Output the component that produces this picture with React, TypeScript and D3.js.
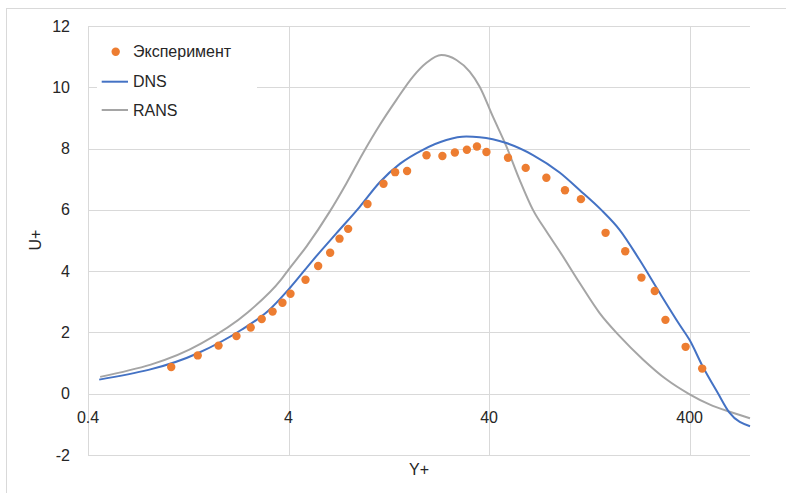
import React from "react";
import * as d3 from "d3";

const expX = [1.04, 1.41, 1.79, 2.2, 2.59, 2.94, 3.33, 3.73, 4.09, 4.86, 5.62, 6.45, 7.18, 7.93, 9.9, 11.9, 13.6, 15.6, 19.5, 23.4, 27.0, 31.0, 34.8, 38.8, 49.7, 60.9, 77.2, 95.6, 114.8, 152.4, 191, 230, 268, 303, 382, 462];
const expY = [0.87, 1.25, 1.57, 1.88, 2.16, 2.44, 2.68, 2.97, 3.26, 3.72, 4.17, 4.6, 5.06, 5.38, 6.19, 6.85, 7.23, 7.27, 7.78, 7.76, 7.87, 7.96, 8.07, 7.89, 7.7, 7.37, 7.05, 6.64, 6.35, 5.25, 4.65, 3.79, 3.35, 2.41, 1.53, 0.82];

const dnsX = [0.455, 1.41, 2.32, 3.15, 4.06, 5.31, 6.94, 9.06, 11.4, 14.35, 18.7, 24.5, 30.8, 35.9, 48.8, 66.2, 89.9, 113, 145, 179, 225, 283, 356.5, 400, 465.6, 552, 632, 800];
const dnsY = [0.46, 1.32, 2.08, 2.69, 3.45, 4.37, 5.24, 6.1, 6.9, 7.5, 7.96, 8.28, 8.39, 8.37, 8.18, 7.79, 7.22, 6.65, 6.0, 5.35, 4.37, 3.3, 2.25, 1.75, 0.88, 0.03, -0.62, -1.06];

const ransX = [0.46, 1.47, 2.51, 3.67, 4.0, 4.92, 6.43, 7.78, 9.4, 11.4, 13.8, 16.7, 19.5, 23.1, 27.5, 32, 35.9, 41.8, 48.8, 56.8, 66.2, 77.2, 89.9, 113, 142, 179, 234, 306, 400, 502, 656, 800];
const ransY = [0.55, 1.64, 2.66, 3.72, 4.05, 4.81, 5.95, 6.87, 7.85, 8.77, 9.59, 10.35, 10.8, 11.05, 10.89, 10.51, 10.02, 9.04, 8.07, 6.98, 6.0, 5.3, 4.65, 3.62, 2.64, 1.88, 1.12, 0.47, -0.02, -0.35, -0.62, -0.8];

const xTicks = [0.4, 4, 40, 400];
const xTickLabels = ["0.4", "4", "40", "400"];
const yTicks = [-2, 0, 2, 4, 6, 8, 10, 12];

const seriesNames = ["Эксперимент", "DNS", "RANS"];

export default function App() {
  const W = 786, H = 493;
  const left = 88, right = 750, top = 26, bottom = 455;
  const x = d3.scaleLog().domain([0.4, 800]).range([left, right]);
  const y = d3.scaleLinear().domain([-2, 12]).range([bottom, top]);
  const line = d3
    .line<[number, number]>()
    .x((d) => x(d[0]))
    .y((d) => y(d[1]))
    .curve(d3.curveMonotoneX);
  const dns = dnsX.map((v, i) => [v, dnsY[i]] as [number, number]);
  const rans = ransX.map((v, i) => [v, ransY[i]] as [number, number]);
  const font = "'Liberation Sans', Arial, sans-serif";
  const grid = "#d9d9d9";
  const txt = "#262626";

  return (
    <svg width={W} height={H} style={{ position: "absolute", left: 0, top: 0 }} fontFamily={font}>
      <rect x={0} y={0} width={W} height={H} fill="#fff" />
      <rect x={6.5} y={8.5} width={W + 10} height={H + 10} fill="none" stroke={grid} />
      {yTicks.map((t) => (
        <line key={"gy" + t} x1={left} x2={right} y1={Math.round(y(t)) + 0.5} y2={Math.round(y(t)) + 0.5} stroke={grid} />
      ))}
      {xTicks.map((t) => (
        <line key={"gx" + t} x1={Math.round(x(t)) + 0.5} x2={Math.round(x(t)) + 0.5} y1={top} y2={bottom} stroke={grid} />
      ))}
      {yTicks.map((t) => (
        <text key={"ty" + t} x={70} y={y(t)} dy="0.35em" textAnchor="end" fontSize={16} fill={txt}>
          {t}
        </text>
      ))}
      {xTicks.map((t, i) => (
        <text key={"tx" + t} x={x(t)} y={417} dy="0.35em" textAnchor="middle" fontSize={16} fill={txt}>
          {xTickLabels[i]}
        </text>
      ))}
      <text x={419} y={469} dy="0.35em" textAnchor="middle" fontSize={16} fill={txt}>Y+</text>
      <text transform={`translate(35,240) rotate(-90)`} dy="0.35em" textAnchor="middle" fontSize={16} fill={txt}>U+</text>
      <path d={line(rans) || ""} fill="none" stroke="#a5a5a5" strokeWidth={2} />
      <path d={line(dns) || ""} fill="none" stroke="#4472c4" strokeWidth={2} />
      {expX.map((v, i) => (
        <circle key={"e" + i} cx={x(v)} cy={y(expY[i])} r={4.2} fill="#ed7d31" />
      ))}
      <rect x={97} y={36} width={160} height={88} fill="#fff" />
      <circle cx={115.7} cy={51.7} r={4.2} fill="#ed7d31" />
      <text x={133} y={51.7} dy="0.35em" fontSize={16} fill={txt}>{seriesNames[0]}</text>
      <line x1={101.7} x2={128} y1={81.7} y2={81.7} stroke="#4472c4" strokeWidth={2} />
      <text x={133} y={81.7} dy="0.35em" fontSize={16} fill={txt}>{seriesNames[1]}</text>
      <line x1={101.7} x2={128} y1={110} y2={110} stroke="#a5a5a5" strokeWidth={2} />
      <text x={133} y={110} dy="0.35em" fontSize={16} fill={txt}>{seriesNames[2]}</text>
    </svg>
  );
}
